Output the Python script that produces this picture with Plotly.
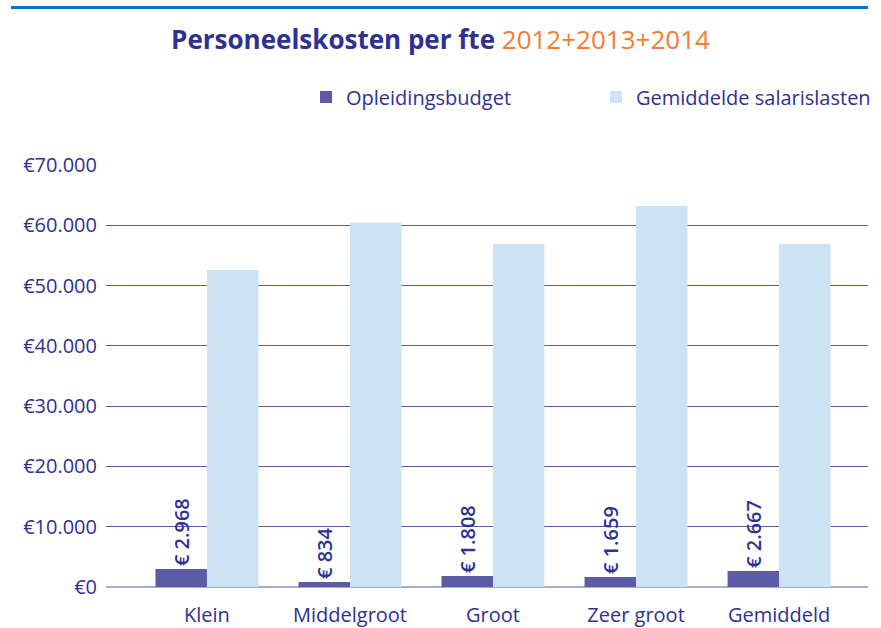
import plotly.graph_objects as go

categories = ["Klein", "Middelgroot", "Groot", "Zeer groot", "Gemiddeld"]
opleidingsbudget = [2968, 834, 1808, 1659, 2667]
opleiding_labels = ["€ 2.968", "€ 834", "€ 1.808", "€ 1.659", "€ 2.667"]
salarislasten = [52600, 60400, 56900, 63200, 56900]
y_tickvals = [0, 10000, 20000, 30000, 40000, 50000, 60000, 70000]
y_ticktext = ["€0", "€10.000", "€20.000", "€30.000", "€40.000", "€50.000", "€60.000", "€70.000"]

navy = "#2e3192"
dark_bar = "#5b5ba6"
light_bar = "#cce3f3"
orange = "#f47b32"
font_family = "Open Sans, Noto Sans, sans-serif"

fig = go.Figure()
fig.add_trace(go.Bar(
    x=categories, y=opleidingsbudget, name="Opleidingsbudget",
    marker=dict(color=dark_bar, line=dict(width=0)),
    text=opleiding_labels, textposition="outside", textangle=-90,
    constraintext="none",
    textfont=dict(family=font_family, size=20, color=navy, weight=600),
    cliponaxis=False, legend="legend",
))
fig.add_trace(go.Bar(
    x=categories, y=salarislasten, name="Gemiddelde salarislasten",
    marker=dict(color=light_bar, line=dict(width=0)),
    legend="legend2",
))

legend_common = dict(orientation="h", y=1 + (165 - 97) / 422, xanchor="left", yanchor="middle",
                     font=dict(size=20, color=navy, family=font_family),
                     bgcolor="rgba(0,0,0,0)")

fig.update_layout(
    width=881, height=628,
    margin=dict(l=106, r=13, t=165, b=41, autoexpand=False),
    paper_bgcolor="white", plot_bgcolor="white",
    font=dict(family=font_family, size=20, color=navy),
    barmode="group", bargap=0.28, bargroupgap=0,
    showlegend=True,
    legend=dict(x=(306 - 106) / 762, **legend_common),
    legend2=dict(x=(596 - 106) / 762, **legend_common),
    title=dict(
        text="<b>Personeelskosten per fte</b> <span style='color:%s'>2012+2013+2014</span>" % orange,
        x=0.5, xanchor="center", y=1 - 40 / 628, yanchor="middle",
        font=dict(size=26, color=navy, family=font_family),
    ),
    xaxis=dict(type="category", range=[-0.706, 4.622], showgrid=False, showline=False,
               ticks="", tickfont=dict(size=20, color=navy), ticklabelstandoff=14,
               automargin=False),
    yaxis=dict(range=[0, 70000], tickvals=y_tickvals, ticktext=y_ticktext,
               showgrid=True, gridcolor="#5b5ba6", gridwidth=1,
               zeroline=True, zerolinecolor="#a9a9d6", zerolinewidth=2,
               showline=False, ticks="", tickfont=dict(size=20, color=navy),
               ticklabelstandoff=8, automargin=False),
    shapes=[dict(type="line", xref="paper", yref="paper",
                 x0=(11 - 106) / 762, x1=1.0, y0=1 + (165 - 7.5) / 422, y1=1 + (165 - 7.5) / 422,
                 line=dict(color="#0077c8", width=3))],
)

fig.write_html("out.html", config={"displayModeBar": False},
               post_script="document.body.style.margin='0';")
